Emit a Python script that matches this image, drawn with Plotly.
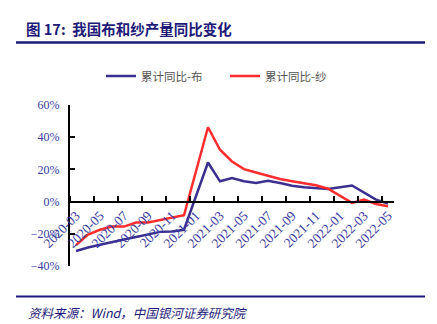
import plotly.graph_objects as go

# Monthly categories, Mar 2020 – May 2022 (January is not reported separately)
months = [
    "2020-03", "2020-04", "2020-05", "2020-06", "2020-07", "2020-08", "2020-09",
    "2020-10", "2020-11", "2020-12", "2021-01", "2021-02", "2021-03", "2021-04",
    "2021-05", "2021-06", "2021-07", "2021-08", "2021-09", "2021-10", "2021-11",
    "2021-12", "2022-01", "2022-02", "2022-03", "2022-04", "2022-05",
]

# Cumulative YoY growth, %
cloth_yoy = [
    -30.7, -28.5, -26.8, -25.0, -23.5, -22.0, -20.5, -18.8, -18.5, -17.5,
    None, 24.3, 12.6, 14.6, 12.6, 11.5, 13.0, 11.5, 9.9, 8.9, 8.4, 7.8,
    None, 10.0, 5.5, 1.2, -1.2,
]
yarn_yoy = [
    -27.0, -20.5, -17.5, -15.5, -15.5, -13.0, -13.0, -11.5, -10.0, -8.5,
    None, 46.2, 32.2, 24.9, 20.2, 18.1, 16.1, 14.0, 12.6, 11.5, 10.1, 8.0,
    None, -0.8, 1.2, -1.5, -2.9,
]

series_names = ["累计同比-布", "累计同比-纱"]
series_colors = ["#3b2f8f", "#ff2d2d"]

y_ticks = [-40, -20, 0, 20, 40, 60]
y_min, y_max = -40, 60

title_text = "图 17:  我国布和纱产量同比变化"
source_text = "资料来源：Wind，中国银河证券研究院"

navy = "#1e1a78"
label_blue = "#3a3aa0"

x_idx = list(range(len(months)))
label_idx = x_idx[::2]
label_txt = months[::2]
# tick marks sit between categories, one every two months
boundary_ticks = [i - 0.5 for i in x_idx[::2]]

fig = go.Figure()
for name, vals, col in zip(series_names, [cloth_yoy, yarn_yoy], series_colors):
    fig.add_trace(go.Scatter(
        x=x_idx, y=vals, name=name, mode="lines", connectgaps=True,
        line=dict(color=col, width=2.5),
    ))

W, H = 437, 324
ml, mr, mt, mb = 70, 43, 105, 58
pw, ph = W - ml - mr, H - mt - mb


def px(xp):
    return (xp - ml) / pw


def py(yp):
    return (H - mb - yp) / ph


fig.update_layout(
    width=W, height=H,
    margin=dict(l=ml, r=mr, t=mt, b=mb),
    paper_bgcolor="white", plot_bgcolor="white",
    showlegend=True,
    legend=dict(
        orientation="h", x=px(106) - 5 / pw, xanchor="left", y=py(76), yanchor="middle",
        font=dict(family="Noto Sans CJK SC", size=11.5, color="#555555"),
        itemwidth=30, tracegroupgap=0,
        entrywidth=79, entrywidthmode="pixels",
    ),
    xaxis=dict(
        range=[-0.5, len(months) - 0.5],
        anchor="free", position=(0 - y_min) / (y_max - y_min),
        tickmode="array", tickvals=label_idx, ticktext=label_txt,
        tickangle=-45, ticks="",
        tickfont=dict(family="Liberation Serif", size=13.5, color=label_blue),
        showline=True, linecolor="black", linewidth=2,
        showgrid=False, zeroline=False,
        minor=dict(tickmode="array", tickvals=boundary_ticks, ticks="inside",
                   ticklen=5, tickwidth=1.5, tickcolor="black", showgrid=False),
    ),
    yaxis=dict(
        range=[y_min, y_max],
        tickmode="array", tickvals=y_ticks,
        ticktext=[("−" if v < 0 else "") + f"{abs(v)}%" for v in y_ticks],
        ticks="inside", ticklen=5, tickwidth=1.5, tickcolor="black",
        tickfont=dict(family="Liberation Serif", size=12, color=label_blue),
        showline=True, linecolor="black", linewidth=2,
        showgrid=False, zeroline=False, ticklabelstandoff=6,
    ),
    shapes=[
        dict(type="line", xref="paper", yref="paper", x0=px(16), x1=px(425),
             y0=py(42.5), y1=py(42.5), line=dict(color=navy, width=2.5)),
        dict(type="line", xref="paper", yref="paper", x0=px(16), x1=px(425),
             y0=py(296.5), y1=py(296.5), line=dict(color=navy, width=2)),
    ],
    annotations=[
        dict(text=title_text, xref="paper", yref="paper", x=px(24), y=py(28),
             xanchor="left", yanchor="middle", showarrow=False,
             font=dict(family="Noto Sans CJK SC", size=14.5, color=navy, weight="bold")),
        dict(text=source_text, xref="paper", yref="paper", x=px(26), y=py(312),
             xanchor="left", yanchor="middle", showarrow=False,
             font=dict(family="Noto Sans CJK SC", size=12.5, color=navy, style="italic")),
    ],
)

fig.write_html("out.html")
